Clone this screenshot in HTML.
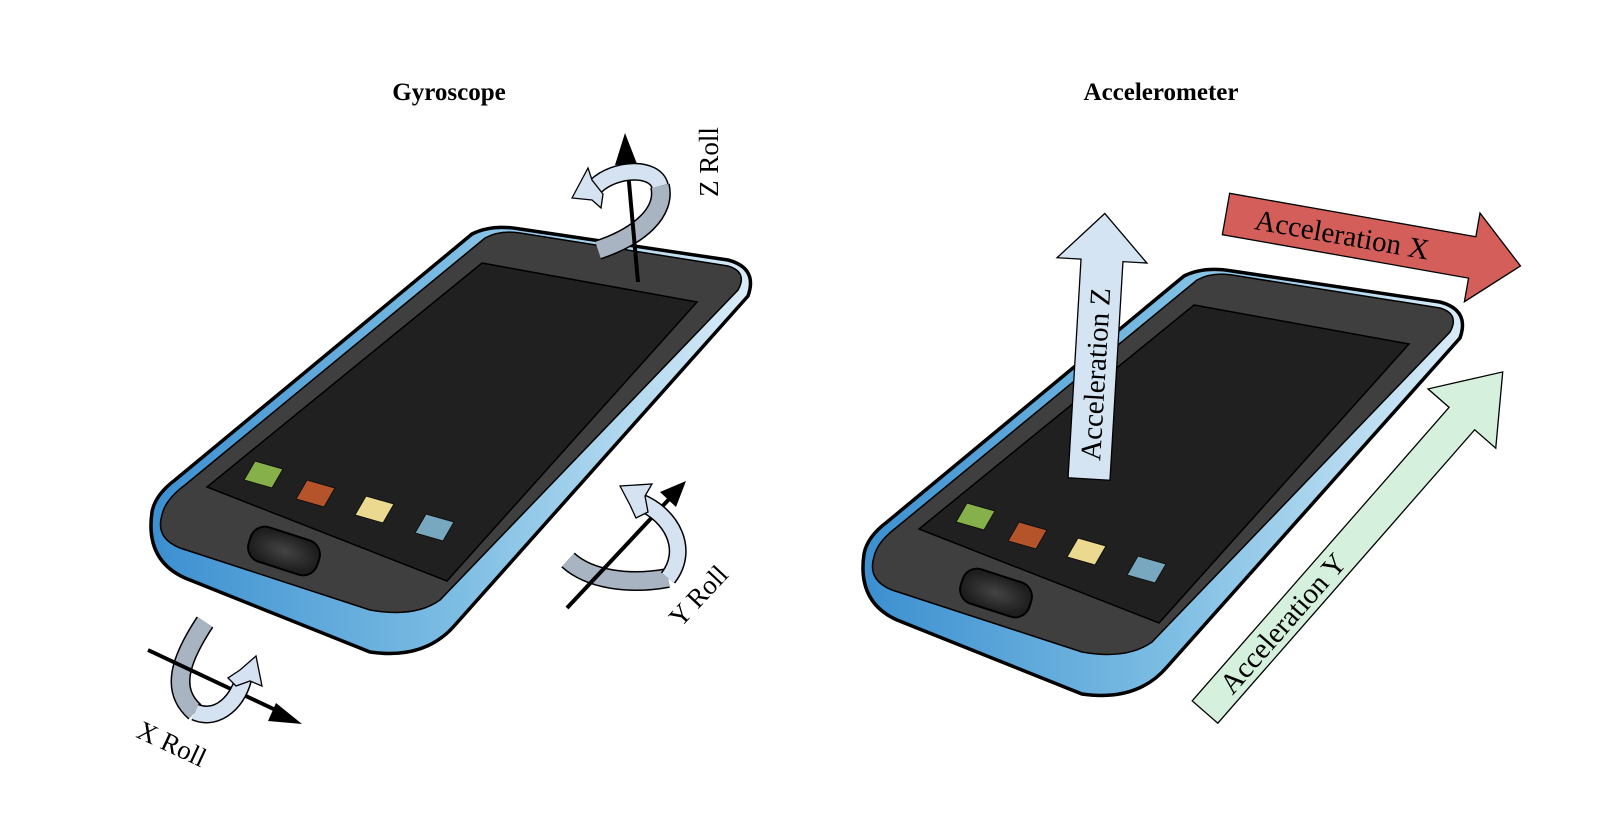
<!DOCTYPE html>
<html><head><meta charset="utf-8"><style>
html,body{margin:0;padding:0;background:#fff;}
svg{display:block;}
text{font-family:"Liberation Serif",serif;}
</style></head><body>
<svg width="1604" height="838" viewBox="0 0 1604 838" xmlns="http://www.w3.org/2000/svg">
<defs>
<linearGradient id="blue" gradientUnits="userSpaceOnUse" x1="150" y1="0" x2="760" y2="0">
<stop offset="0" stop-color="#3b8fd0"/><stop offset="0.5" stop-color="#7cbde3"/><stop offset="1" stop-color="#dcedf8"/></linearGradient>
<radialGradient id="btn"><stop offset="0" stop-color="#444"/><stop offset="1" stop-color="#1e1e1e"/></radialGradient>
<g id="phone">
<path d="M 472 234 Q 492 224 520 229 L 728 260 Q 758 268 748 296 L 455 625 Q 425 660 370 652 L 185 578 Q 145 560 152 512 Q 155 495 175 480 Z" fill="url(#blue)" stroke="#000" stroke-width="3.5"/>
<path d="M 485 238 Q 500 230 520 233 L 728 266 Q 748 272 738 290 L 440 600 Q 415 618 370 610 L 180 548 Q 155 538 162 515 Q 165 500 185 485 Z" fill="#3f3f3f" stroke="#000" stroke-width="1.5"/>
<polygon points="482,263 697,302 447,581 207,487" fill="#202020" stroke="#000" stroke-width="1.5"/>
<polygon points="255,461 283,469 272,488 244,480" fill="#86b04a" stroke="#111" stroke-width="1" stroke-linejoin="round"/>
<polygon points="307,480 335,488 324,507 296,499" fill="#b5542a" stroke="#111" stroke-width="1" stroke-linejoin="round"/>
<polygon points="366,496 394,504 383,523 355,515" fill="#ead98e" stroke="#111" stroke-width="1" stroke-linejoin="round"/>
<polygon points="426,514 454,522 443,541 415,533" fill="#78a8c0" stroke="#111" stroke-width="1" stroke-linejoin="round"/>
<rect x="248" y="533" width="72" height="36" rx="15" transform="rotate(18 284 551)" fill="url(#btn)" stroke="#000" stroke-width="2"/>
</g>
</defs>

<text x="449" y="100" font-size="25" font-weight="bold" text-anchor="middle">Gyroscope</text>
<text x="1161" y="100" font-size="25" font-weight="bold" text-anchor="middle">Accelerometer</text>

<use href="#phone"/>
<use href="#phone" transform="translate(712,42)"/>

<!-- Z roll -->
<path d="M 660 186 C 666 212 640 236 598 250" fill="none" stroke="#000" stroke-width="20"/>
<path d="M 660 186 C 666 212 640 236 598 250" fill="none" stroke="#a8b4c2" stroke-width="17"/>
<line x1="638" y1="282" x2="627" y2="160" stroke="#000" stroke-width="4"/>
<polygon points="625,133 615,165 637,164" fill="#000"/>
<path d="M 660 186 C 655 166 615 168 596 186" fill="none" stroke="#000" stroke-width="18"/>
<path d="M 660 186 C 655 166 615 168 596 186" fill="none" stroke="#d4e2f2" stroke-width="15"/>
<polygon points="572,198 588,168 592,180 603,194 601,208 592,200" fill="#d4e2f2" stroke="#000" stroke-width="1.3"/>
<text transform="translate(718,162) rotate(-90)" font-size="27" text-anchor="middle">Z Roll</text>

<!-- Y roll -->
<path d="M 568 560 C 590 580 630 585 668 578" fill="none" stroke="#000" stroke-width="20"/>
<path d="M 568 560 C 590 580 630 585 668 578" fill="none" stroke="#a8b4c2" stroke-width="17"/>
<line x1="567" y1="608" x2="672" y2="496" stroke="#000" stroke-width="4"/>
<polygon points="686,481 660,492 676,507" fill="#000"/>
<path d="M 668 578 C 690 550 672 515 640 502" fill="none" stroke="#000" stroke-width="18"/>
<path d="M 668 578 C 690 550 672 515 640 502" fill="none" stroke="#d4e2f2" stroke-width="15"/>
<polygon points="620,486 652,484 645,496 648,512 636,518 630,505" fill="#d4e2f2" stroke="#000" stroke-width="1.3"/>
<text transform="translate(705,602) rotate(-47)" font-size="27" text-anchor="middle">Y Roll</text>

<!-- X roll -->
<path d="M 205 622 C 180 660 170 690 195 712" fill="none" stroke="#000" stroke-width="20"/>
<path d="M 205 622 C 180 660 170 690 195 712" fill="none" stroke="#a8b4c2" stroke-width="17"/>
<line x1="148" y1="650" x2="282" y2="713" stroke="#000" stroke-width="4"/>
<polygon points="302,724 276,703 268,721" fill="#000"/>
<path d="M 195 712 C 218 722 240 700 244 675" fill="none" stroke="#000" stroke-width="18"/>
<path d="M 195 712 C 218 722 240 700 244 675" fill="none" stroke="#d4e2f2" stroke-width="15"/>
<polygon points="256,656 262,686 250,681 236,686 228,678 240,670" fill="#d4e2f2" stroke="#000" stroke-width="1.3"/>
<text transform="translate(168,752) rotate(25)" font-size="27" text-anchor="middle">X Roll</text>

<!-- Acceleration Z -->
<g transform="translate(1089,479) rotate(-86.6)">
<polygon points="0,-21 219,-21 219,-45 266,0 219,45 219,21 0,21" fill="#d4e4f3" stroke="#000" stroke-width="1.3"/>
<text x="105" y="10" font-size="29" text-anchor="middle">Acceleration Z</text>
</g>
<!-- Acceleration X -->
<g transform="translate(1226,214) rotate(10)">
<polygon points="0,-21 250,-21 250,-45 299,0 250,45 250,21 0,21" fill="#d45f5a" stroke="#000" stroke-width="1.3"/>
<text x="118" y="10" font-size="29" text-anchor="middle">Acceleration X</text>
</g>
<!-- Acceleration Y -->
<g transform="translate(1205,712) rotate(-48.8)">
<polygon points="0,-17 390,-17 390,-45 452,0 390,45 390,17 0,17" fill="#d5f0dc" stroke="#000" stroke-width="1.3"/>
<text x="118" y="10" font-size="29" text-anchor="middle">Acceleration Y</text>
</g>
</svg>
</body></html>
